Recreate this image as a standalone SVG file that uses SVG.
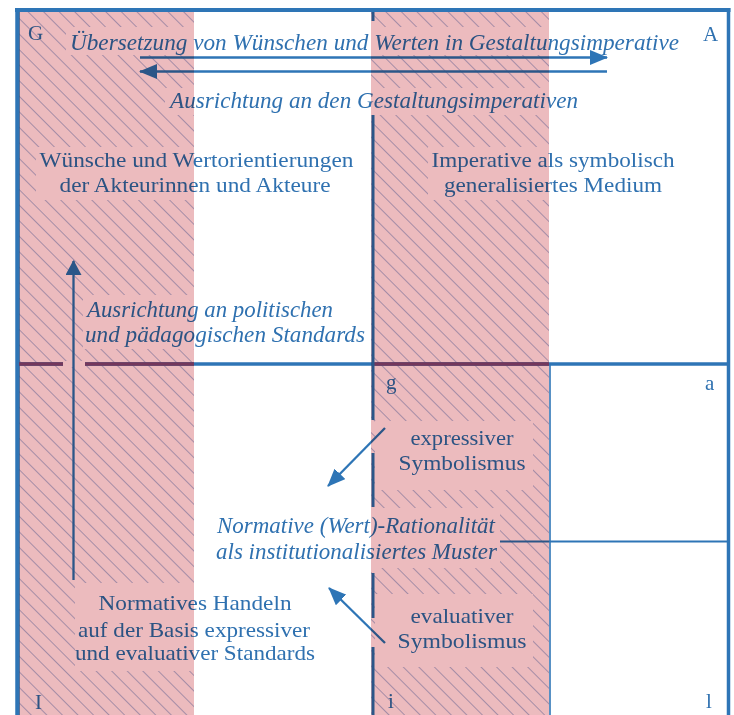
<svg xmlns="http://www.w3.org/2000/svg" width="734" height="715" viewBox="0 0 734 715">
<style>
  .t{font-family:"Liberation Serif","Times New Roman",serif;fill:#2f71b0}
  .r{font-size:22px}
  .it{font-size:24px;font-style:italic}
  .lbl{font-size:21px}
  .m{text-anchor:middle}
  .frame{stroke:#2e75b6;fill:none}
  .conn{stroke:#2e75b6;stroke-width:2.3;fill:none}
  .clr{fill:#ffffff}
</style>
<defs>
  <pattern id="hatch" patternUnits="userSpaceOnUse" width="11" height="11" patternTransform="rotate(-45)">
    <line x1="0" y1="0" x2="0" y2="11" stroke="#6680c0" stroke-width="1"/>
  </pattern>
  <marker id="ah" viewBox="0 0 18 15" refX="17" refY="7.5" markerWidth="18" markerHeight="15" markerUnits="userSpaceOnUse" orient="auto">
    <path d="M0,0 L18,7.5 L0,15 z" fill="#2e75b6"/>
  </marker>
  <marker id="ahs" viewBox="0 0 15 16" refX="14" refY="8" markerWidth="15" markerHeight="16" markerUnits="userSpaceOnUse" orient="auto">
    <path d="M0,0 L15,8 L0,16 z" fill="#2e75b6"/>
  </marker>
</defs>

<rect width="734" height="715" fill="#ffffff"/>

<g id="hatching">
  <rect x="19" y="12" width="175" height="703" fill="url(#hatch)"/>
  <rect x="371" y="12" width="178" height="703" fill="url(#hatch)"/>
</g>

<g id="frame">
  <line class="frame" x1="17.5" y1="8" x2="17.5" y2="715" stroke-width="4.5"/>
  <line class="frame" x1="728.5" y1="8" x2="728.5" y2="715" stroke-width="3.5"/>
  <line class="frame" x1="373" y1="10" x2="373" y2="21" stroke-width="3"/>
  <line class="frame" x1="373" y1="115" x2="373" y2="420" stroke-width="3"/>
  <line class="frame" x1="373" y1="453" x2="373" y2="507" stroke-width="3"/>
  <line class="frame" x1="373" y1="573" x2="373" y2="618" stroke-width="3"/>
  <line class="frame" x1="373" y1="647" x2="373" y2="715" stroke-width="3"/>
  <line class="frame" x1="17" y1="364" x2="63" y2="364" stroke-width="3.5"/>
  <line class="frame" x1="85" y1="364" x2="729" y2="364" stroke-width="3.5"/>
  <line class="frame" x1="550" y1="364" x2="550" y2="715" stroke-width="1.6"/>
  <line class="frame" x1="495" y1="541.5" x2="728" y2="541.5" stroke-width="1.8"/>
</g>

<g id="node-G"><text class="t lbl" x="28" y="40">G</text></g>
<g id="node-A"><text class="t lbl" x="703" y="41">A</text></g>
<g id="node-g"><text class="t lbl" x="386" y="389">g</text></g>
<g id="node-a"><text class="t lbl" x="705" y="390">a</text></g>
<g id="node-I"><text class="t lbl" x="35" y="709">I</text></g>
<g id="node-i"><text class="t lbl" x="388" y="708">i</text></g>
<g id="node-l"><text class="t lbl" x="706" y="708">l</text></g>

<g id="label-uebersetzung">
  <rect class="clr" x="66" y="27" width="618" height="28"/>
  <text class="t it" x="70" y="50" textLength="609" lengthAdjust="spacingAndGlyphs">Übersetzung von Wünschen und Werten in Gestaltungsimperative</text>
</g>
<g id="label-ausrichtung-gestaltung">
  <rect class="clr" x="165" y="88" width="418" height="27"/>
  <text class="t it" x="170" y="108" textLength="408" lengthAdjust="spacingAndGlyphs">Ausrichtung an den Gestaltungsimperativen</text>
</g>
<g id="node-wuensche">
  <rect class="clr" x="36" y="147" width="322" height="53"/>
  <text class="t r m" x="196.5" y="167" textLength="314" lengthAdjust="spacingAndGlyphs">Wünsche und Wertorientierungen</text>
  <text class="t r m" x="195" y="192" textLength="271" lengthAdjust="spacingAndGlyphs">der Akteurinnen und Akteure</text>
</g>
<g id="node-imperative">
  <rect class="clr" x="428" y="147" width="250" height="53"/>
  <text class="t r m" x="553" y="167" textLength="243" lengthAdjust="spacingAndGlyphs">Imperative als symbolisch</text>
  <text class="t r m" x="553" y="192" textLength="218" lengthAdjust="spacingAndGlyphs">generalisiertes Medium</text>
</g>
<g id="label-ausrichtung-politisch">
  <rect class="clr" x="83" y="295" width="287" height="54"/>
  <text class="t it" x="87" y="317" textLength="246" lengthAdjust="spacingAndGlyphs">Ausrichtung an politischen</text>
  <text class="t it" x="85" y="342" textLength="280" lengthAdjust="spacingAndGlyphs">und pädagogischen Standards</text>
</g>
<g id="node-expressiv">
  <rect class="clr" x="375" y="421" width="158" height="69"/>
  <text class="t r m" x="462" y="445" textLength="103" lengthAdjust="spacingAndGlyphs">expressiver</text>
  <text class="t r m" x="462" y="470" textLength="127" lengthAdjust="spacingAndGlyphs">Symbolismus</text>
</g>
<g id="node-normative">
  <rect class="clr" x="212" y="508" width="288" height="60"/>
  <text class="t it" x="217" y="533" textLength="278" lengthAdjust="spacingAndGlyphs">Normative (Wert)-Rationalität</text>
  <text class="t it" x="216" y="559" textLength="281" lengthAdjust="spacingAndGlyphs">als institutionalisiertes Muster</text>
</g>
<g id="node-evaluativ">
  <rect class="clr" x="375" y="594" width="158" height="73"/>
  <text class="t r m" x="462" y="623" textLength="103" lengthAdjust="spacingAndGlyphs">evaluativer</text>
  <text class="t r m" x="462" y="648" textLength="129" lengthAdjust="spacingAndGlyphs">Symbolismus</text>
</g>
<g id="node-handeln">
  <rect class="clr" x="75" y="583" width="248" height="88"/>
  <text class="t r m" x="195" y="610" textLength="193" lengthAdjust="spacingAndGlyphs">Normatives Handeln</text>
  <text class="t r m" x="194" y="637" textLength="232" lengthAdjust="spacingAndGlyphs">auf der Basis expressiver</text>
  <text class="t r m" x="195" y="660" textLength="240" lengthAdjust="spacingAndGlyphs">und evaluativer Standards</text>
</g>

<g id="connectors">
  <line class="conn" x1="140" y1="57.5" x2="607" y2="57.5" marker-end="url(#ah)"/>
  <line class="conn" x1="607" y1="71.5" x2="140" y2="71.5" marker-end="url(#ah)"/>
  <rect x="63" y="361" width="22" height="6" fill="#ffffff"/>
  <line class="conn" x1="73.5" y1="580" x2="73.5" y2="261" stroke-width="2.5" marker-end="url(#ahs)"/>
  <line class="conn" x1="385" y1="428" x2="328" y2="486" marker-end="url(#ah)"/>
  <line class="conn" x1="385" y1="643" x2="329" y2="588" marker-end="url(#ah)"/>
</g>

<g id="pink-columns" style="mix-blend-mode:multiply">
  <rect x="19" y="12" width="175" height="703" fill="#ecbbbe"/>
  <rect x="371" y="12" width="178" height="703" fill="#ecbbbe"/>
</g>

<g id="frame-top">
  <line x1="15" y1="10" x2="730.5" y2="10" stroke="#2e75b6" stroke-width="4"/>
  <line x1="19" y1="364" x2="63" y2="364" stroke="#74375c" stroke-width="3.5"/>
  <line x1="85" y1="364" x2="194" y2="364" stroke="#74375c" stroke-width="3.5"/>
  <line x1="374.5" y1="364" x2="549" y2="364" stroke="#74375c" stroke-width="3.5"/>
</g>
</svg>
